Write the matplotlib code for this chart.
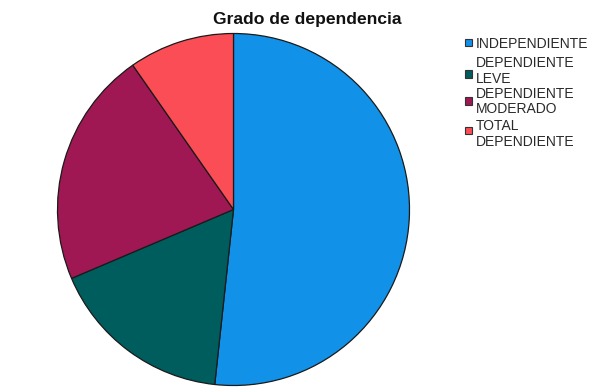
import matplotlib
matplotlib.use("Agg")
import matplotlib.pyplot as plt
from matplotlib.patches import Rectangle

categories = ["INDEPENDIENTE", "DEPENDIENTE\nLEVE", "DEPENDIENTE\nMODERADO", "TOTAL\nDEPENDIENTE"]
values = [51.7, 16.9, 21.7, 9.7]
colors = ["#1192E8", "#005D5D", "#9F1853", "#FA4D56"]

W, H = 604, 392
fig = plt.figure(figsize=(W / 100, H / 100), dpi=100)
plt.rcParams['font.family'] = ['Liberation Sans', 'DejaVu Sans']

cx, cy, r = 233.5, 209.5, 176
ax = fig.add_axes([(cx - r) / W, (H - cy - r) / H, 2 * r / W, 2 * r / H])
ax.pie(values, colors=colors, startangle=90, counterclock=False,
       wedgeprops=dict(edgecolor="#1a1a1a", linewidth=0.9))
ax.set_xlim(-1.0, 1.0)
ax.set_ylim(-1.0, 1.0)
ax.set_aspect("equal")
ax.axis("off")

fig.text(307.5 / W, 1 - 19.5 / H, "Grado de dependencia", ha="center", va="center",
         fontsize=12.6, fontweight="bold", color="#111111")

# legend, laid out entry by entry (pixel rows from the top)
text_rows = [44.5, 71.0, 101.5, 134.0]
patch_rows = [42.5, 74.0, 101.0, 130.5]
for lab, col, ty, py in zip(categories, colors, text_rows, patch_rows):
    fig.add_artist(Rectangle((465 / W, 1 - (py + 3.5) / H), 7 / W, 7 / H,
                             transform=fig.transFigure, facecolor=col,
                             edgecolor="#333333", linewidth=0.8))
    fig.text(475.5 / W, 1 - ty / H, lab, ha="left", va="center",
             fontsize=10, linespacing=1.18, color="#2a2a2a")

fig.savefig("out.png", dpi=100)
